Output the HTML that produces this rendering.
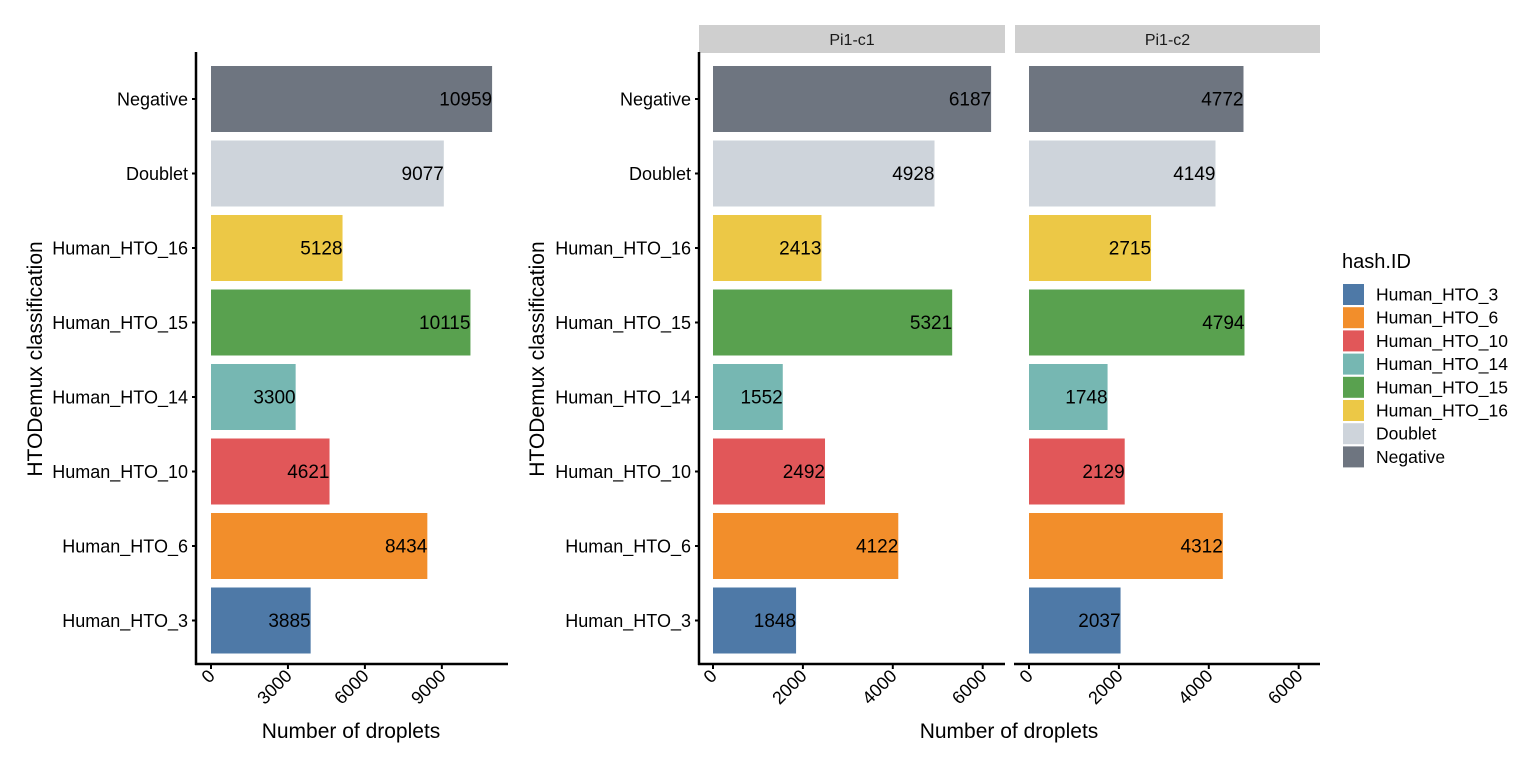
<!DOCTYPE html>
<html><head><meta charset="utf-8"><style>
body{margin:0;background:#fff}
svg{display:block;font-family:"Liberation Sans",Arial,sans-serif}
</style></head><body>
<svg id="c" width="1536" height="768" xmlns="http://www.w3.org/2000/svg"></svg>
<script>
const categories=["Negative","Doublet","Human_HTO_16","Human_HTO_15","Human_HTO_14","Human_HTO_10","Human_HTO_6","Human_HTO_3"];
const colors=["#6E7580","#CED4DB","#ECC846","#59A14F","#76B7B2","#E15759","#F28E2B","#4E79A7"];
const totalValues=[10959,9077,5128,10115,3300,4621,8434,3885];
const c1Values=[6187,4928,2413,5321,1552,2492,4122,1848];
const c2Values=[4772,4149,2715,4794,1748,2129,4312,2037];
const leftTicks=[0,3000,6000,9000];
const facetTicks=[0,2000,4000,6000];
const legendLabels=["Human_HTO_3","Human_HTO_6","Human_HTO_10","Human_HTO_14","Human_HTO_15","Human_HTO_16","Doublet","Negative"];
const legendColors=["#4E79A7","#F28E2B","#E15759","#76B7B2","#59A14F","#ECC846","#CED4DB","#6E7580"];
const svg=document.getElementById('c');
const NS="http://www.w3.org/2000/svg";
function mk(t,a,p){const e=document.createElementNS(NS,t);for(const k in a)e.setAttribute(k,a[k]);(p||svg).appendChild(e);return e;}
const y0=99,dy=74.5,bh=66;
function yPos(i){return y0+i*dy;}
function panel(name,vals,x0,scale,xl,xr,ticks,showY,strip){
  const g=mk('g',{});
  
  
  const sx=v=>x0+v*scale;
  if(strip){const s=mk('rect',{x:xl,y:25,width:xr-xl,height:28,fill:'#CFCFCF'},g);
    
    const st=mk('text',{x:(xl+xr)/2,y:45,'text-anchor':'middle','font-size':16,fill:'#1a1a1a'},g);st.textContent=strip;
    }
  vals.forEach((v,i)=>{
    const r=mk('rect',{x:sx(0),y:yPos(i)-bh/2,width:sx(v)-sx(0),height:bh,fill:colors[i]},g);
    
    
    const t=mk('text',{x:sx(v),y:yPos(i)+6.5,'text-anchor':'end','font-size':19,fill:'#000'},g);t.textContent=v;
    
    if(showY){
      mk('line',{x1:xl-4,x2:xl,y1:yPos(i),y2:yPos(i),stroke:'#000','stroke-width':2},g);
      const l=mk('text',{x:xl-8,y:yPos(i)+6.5,'text-anchor':'end','font-size':18,fill:'#000'},g);l.textContent=categories[i];
      
    }
  });
  if(showY)mk('line',{x1:xl,x2:xl,y1:52,y2:665,stroke:'#000','stroke-width':2.5},g);
  mk('line',{x1:xl-1,x2:xr,y1:664,y2:664,stroke:'#000','stroke-width':2.5},g);
  ticks.forEach(tv=>{
    const x=sx(tv);
    mk('line',{x1:x,x2:x,y1:664,y2:669,stroke:'#000','stroke-width':2},g);
    const t=mk('text',{x:x+5,y:677,'text-anchor':'end','font-size':18,fill:'#000',transform:`rotate(-45 ${x+5} 677)`},g);t.textContent=tv;
    
  });
}
panel('panel-total',totalValues,211,0.02565,196,508,leftTicks,true,null);
panel('panel-pi1-c1',c1Values,713,0.04495,699,1005,facetTicks,true,'Pi1-c1');
panel('panel-pi1-c2',c2Values,1029,0.04495,1015,1320,facetTicks,false,'Pi1-c2');
function txt(name,s,a){const t=mk('text',a);t.textContent=s;return t;}
txt('x-axis-title','Number of droplets',{x:351,y:738,'text-anchor':'middle','font-size':21});
txt('x-axis-title','Number of droplets',{x:1009,y:738,'text-anchor':'middle','font-size':21});
txt('y-axis-title','HTODemux classification',{x:42,y:359,'text-anchor':'middle','font-size':21,transform:'rotate(-90 42 359)'});
txt('y-axis-title','HTODemux classification',{x:544,y:359,'text-anchor':'middle','font-size':21,transform:'rotate(-90 544 359)'});
txt('legend-title','hash.ID',{x:1342,y:268,'font-size':20});
legendLabels.forEach((l,i)=>{
  const y=284+i*23.2;
  const r=mk('rect',{x:1343,y:y,width:21,height:21,fill:legendColors[i]});
  
  txt('legend-entry',l,{x:1376,y:y+16.5,'font-size':17.5});
});
</script>
</body></html>
